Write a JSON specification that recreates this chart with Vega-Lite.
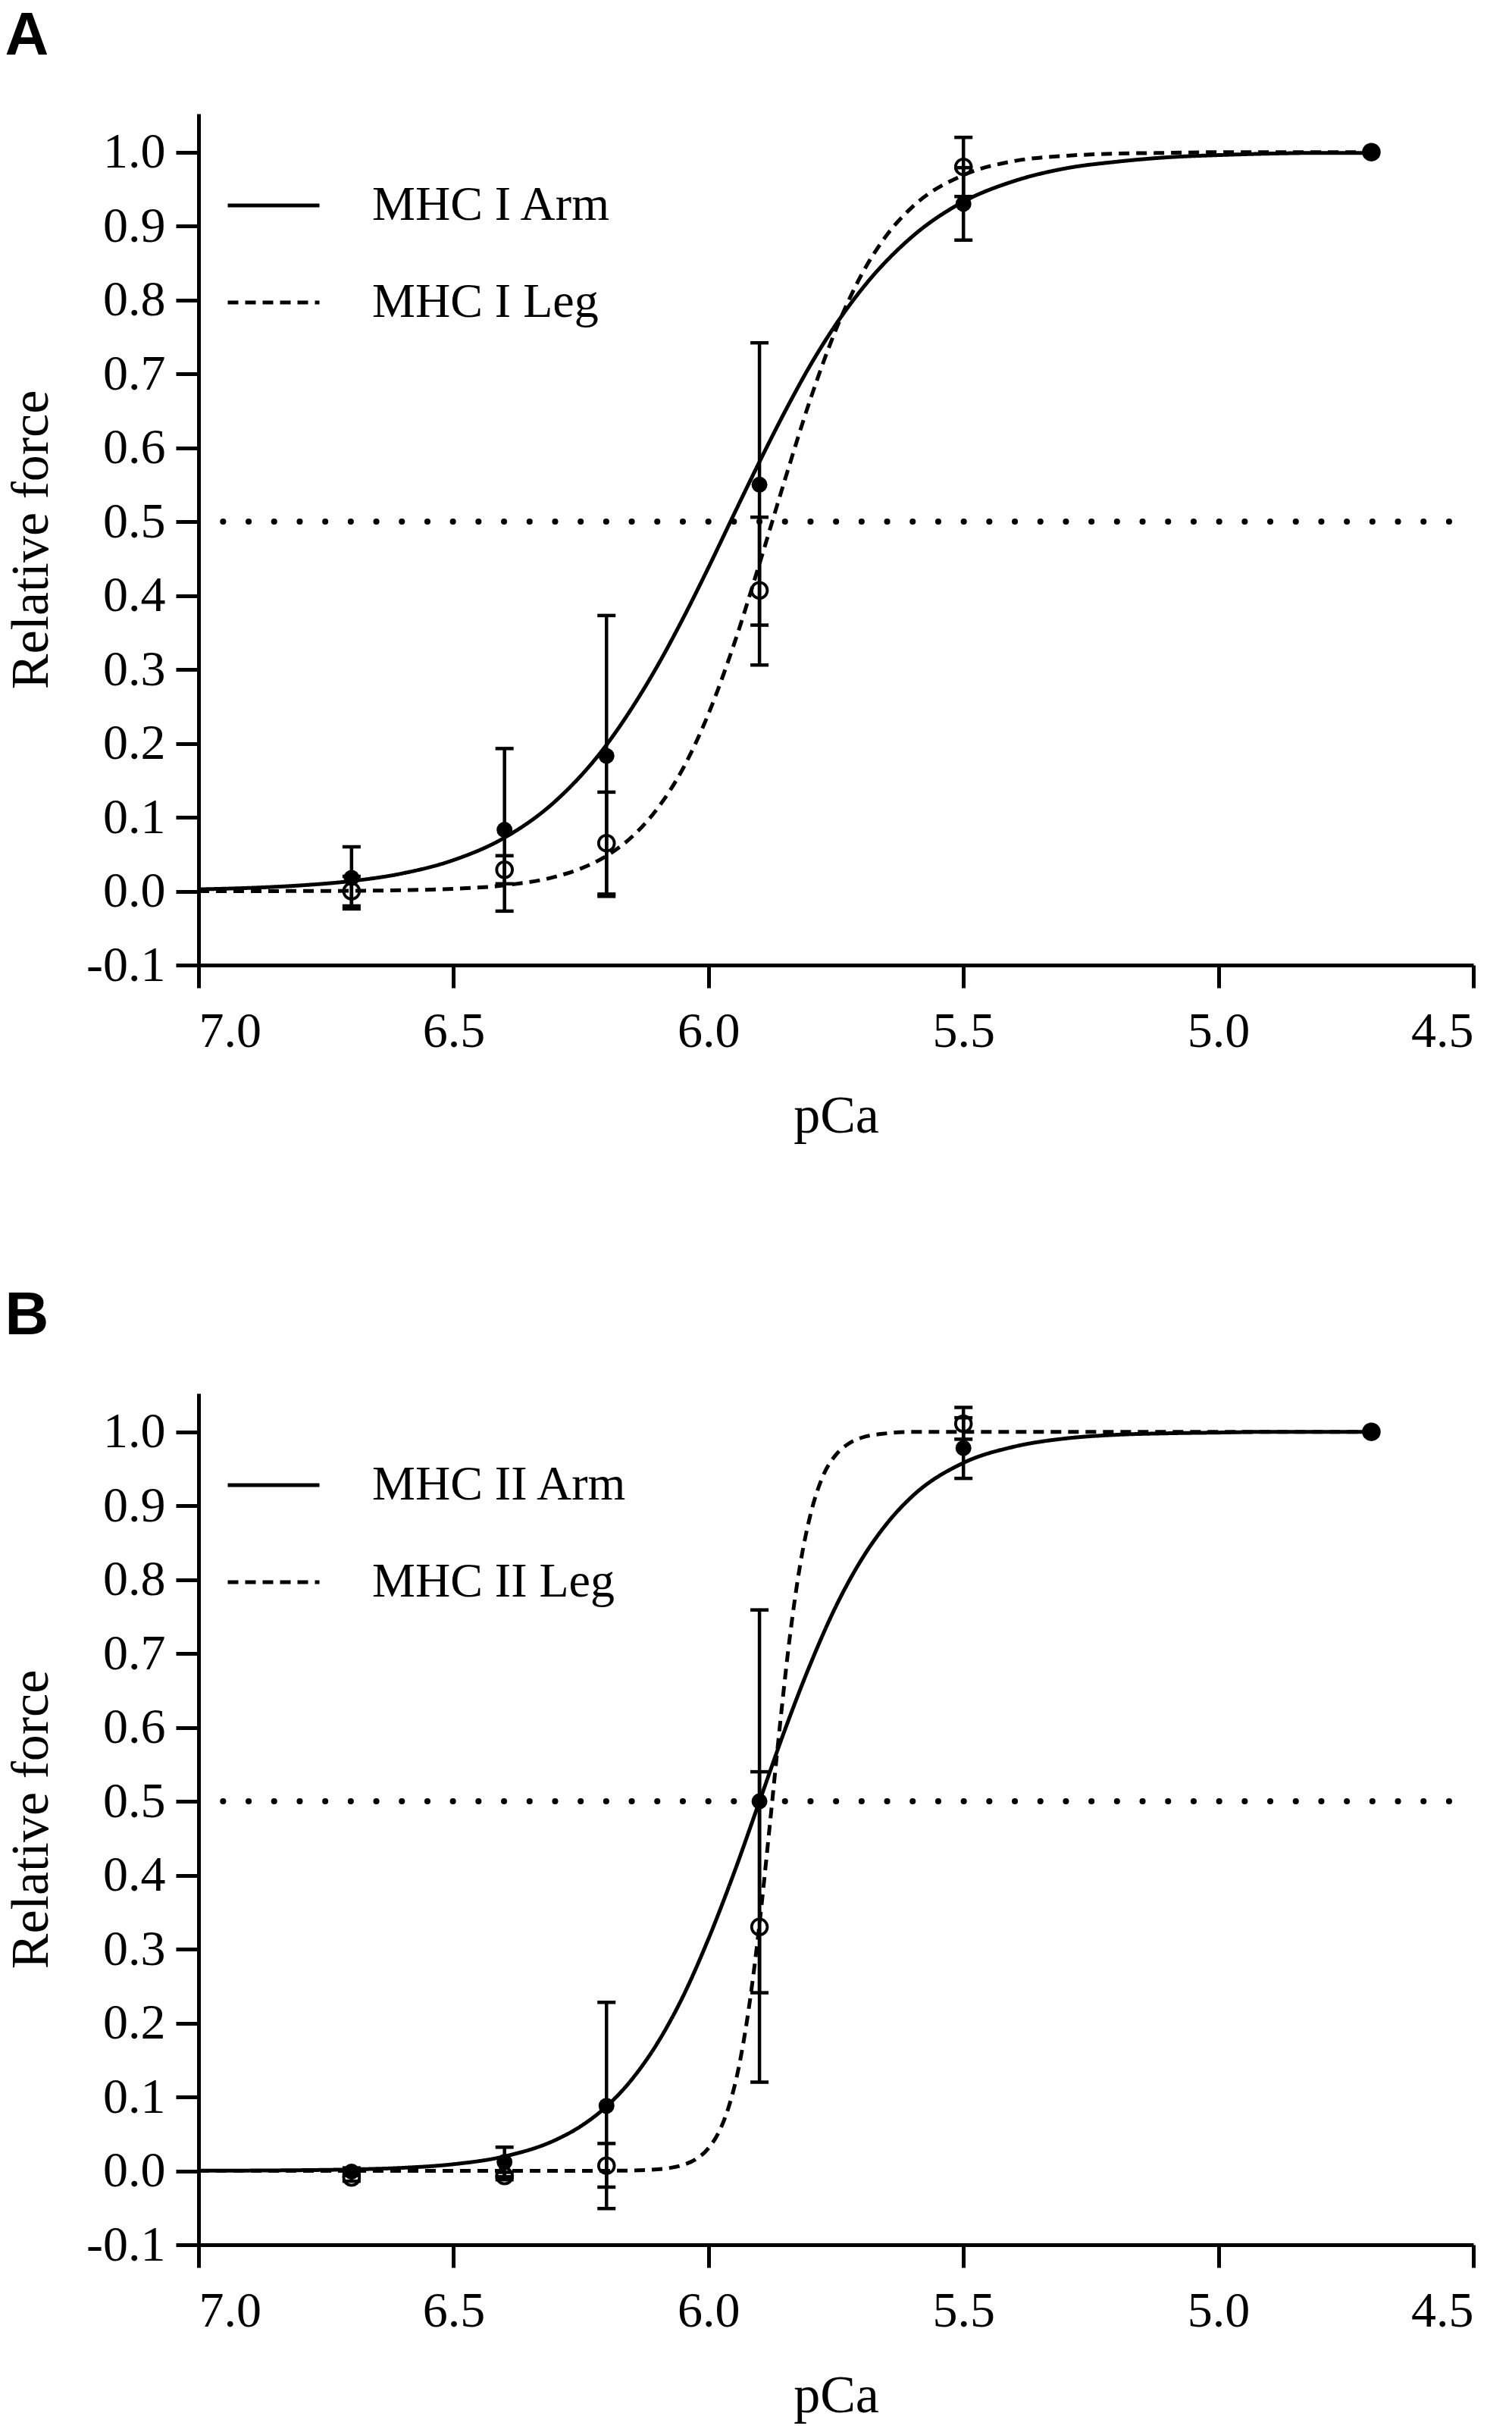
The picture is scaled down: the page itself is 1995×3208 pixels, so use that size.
{
  "$schema": "https://vega.github.io/schema/vega-lite/v6.json",
  "background": "white",
  "padding": {"left": 6, "top": 8, "right": 10, "bottom": 20},
  "config": {
    "view": {"stroke": null},
    "font": "Liberation Serif",
    "axis": {
      "grid": false,
      "domainColor": "black",
      "domainWidth": 5,
      "tickColor": "black",
      "tickWidth": 5,
      "tickSize": 30,
      "labelFont": "Liberation Serif",
      "labelFontSize": 66,
      "labelColor": "black",
      "titleFont": "Liberation Serif",
      "titleFontSize": 70,
      "titleFontWeight": "normal",
      "titleColor": "black"
    },
    "axisX": {"labelPadding": 25, "titlePadding": 45},
    "axisY": {"labelPadding": 14, "titlePadding": 36},
    "title": {
      "font": "Liberation Sans",
      "fontSize": 80,
      "fontWeight": "bold",
      "anchor": "start",
      "frame": "bounds",
      "baseline": "alphabetic",
      "color": "black",
      "offset": 61
    },
    "legend": {
      "orient": "none",
      "legendX": 36,
      "legendY": 58,
      "title": null,
      "padding": 0,
      "symbolType": "stroke",
      "symbolSize": 14641,
      "symbolStrokeWidth": 5,
      "symbolStrokeColor": "black",
      "labelFont": "Liberation Serif",
      "labelFontSize": 64,
      "labelColor": "black",
      "labelOffset": 67,
      "rowPadding": 33,
      "labelLimit": 600
    }
  },
  "datasets": {
    "pointsA": [
      {"s": "MHC I Arm", "pCa": 6.7, "f": 0.018, "lo": -0.024, "hi": 0.06},
      {"s": "MHC I Arm", "pCa": 6.4, "f": 0.083, "lo": -0.027, "hi": 0.193},
      {"s": "MHC I Arm", "pCa": 6.2, "f": 0.183, "lo": -0.007, "hi": 0.373},
      {"s": "MHC I Arm", "pCa": 5.9, "f": 0.55, "lo": 0.36, "hi": 0.742},
      {"s": "MHC I Arm", "pCa": 5.5, "f": 0.93, "lo": 0.881, "hi": 0.979},
      {"s": "MHC I Arm", "pCa": 4.7, "f": 1.0},
      {"s": "MHC I Leg", "pCa": 6.7, "f": 0.0, "lo": -0.02, "hi": 0.02},
      {"s": "MHC I Leg", "pCa": 6.4, "f": 0.029, "lo": 0.01, "hi": 0.048},
      {"s": "MHC I Leg", "pCa": 6.2, "f": 0.065, "lo": -0.004, "hi": 0.134},
      {"s": "MHC I Leg", "pCa": 5.9, "f": 0.407, "lo": 0.306, "hi": 0.506},
      {"s": "MHC I Leg", "pCa": 5.5, "f": 0.98, "lo": 0.94, "hi": 1.02},
      {"s": "MHC I Leg", "pCa": 4.7, "f": 1.0}
    ],
    "curvesA": [
      {"s": "MHC I Arm", "pCa": 7.0, "f": 0.0025},
      {"s": "MHC I Arm", "pCa": 6.9, "f": 0.0044},
      {"s": "MHC I Arm", "pCa": 6.8, "f": 0.0078},
      {"s": "MHC I Arm", "pCa": 6.7, "f": 0.0137},
      {"s": "MHC I Arm", "pCa": 6.6, "f": 0.0241},
      {"s": "MHC I Arm", "pCa": 6.5, "f": 0.0421},
      {"s": "MHC I Arm", "pCa": 6.4, "f": 0.0724},
      {"s": "MHC I Arm", "pCa": 6.3, "f": 0.122},
      {"s": "MHC I Arm", "pCa": 6.2, "f": 0.198},
      {"s": "MHC I Arm", "pCa": 6.15, "f": 0.248},
      {"s": "MHC I Arm", "pCa": 6.1, "f": 0.305},
      {"s": "MHC I Arm", "pCa": 6.05, "f": 0.369},
      {"s": "MHC I Arm", "pCa": 6.0, "f": 0.438},
      {"s": "MHC I Arm", "pCa": 5.95, "f": 0.51},
      {"s": "MHC I Arm", "pCa": 5.9, "f": 0.581},
      {"s": "MHC I Arm", "pCa": 5.85, "f": 0.649},
      {"s": "MHC I Arm", "pCa": 5.8, "f": 0.712},
      {"s": "MHC I Arm", "pCa": 5.75, "f": 0.767},
      {"s": "MHC I Arm", "pCa": 5.7, "f": 0.814},
      {"s": "MHC I Arm", "pCa": 5.6, "f": 0.886},
      {"s": "MHC I Arm", "pCa": 5.5, "f": 0.933},
      {"s": "MHC I Arm", "pCa": 5.4, "f": 0.961},
      {"s": "MHC I Arm", "pCa": 5.3, "f": 0.978},
      {"s": "MHC I Arm", "pCa": 5.2, "f": 0.987},
      {"s": "MHC I Arm", "pCa": 5.1, "f": 0.993},
      {"s": "MHC I Arm", "pCa": 5.0, "f": 0.996},
      {"s": "MHC I Arm", "pCa": 4.9, "f": 0.998},
      {"s": "MHC I Arm", "pCa": 4.8, "f": 0.999},
      {"s": "MHC I Arm", "pCa": 4.7, "f": 0.999},
      {"s": "MHC I Leg", "pCa": 7.0, "f": 0.0},
      {"s": "MHC I Leg", "pCa": 6.8, "f": 0.0002},
      {"s": "MHC I Leg", "pCa": 6.7, "f": 0.0005},
      {"s": "MHC I Leg", "pCa": 6.6, "f": 0.0013},
      {"s": "MHC I Leg", "pCa": 6.5, "f": 0.0032},
      {"s": "MHC I Leg", "pCa": 6.4, "f": 0.0079},
      {"s": "MHC I Leg", "pCa": 6.3, "f": 0.0196},
      {"s": "MHC I Leg", "pCa": 6.25, "f": 0.0307},
      {"s": "MHC I Leg", "pCa": 6.2, "f": 0.0477},
      {"s": "MHC I Leg", "pCa": 6.15, "f": 0.0736},
      {"s": "MHC I Leg", "pCa": 6.1, "f": 0.112},
      {"s": "MHC I Leg", "pCa": 6.05, "f": 0.166},
      {"s": "MHC I Leg", "pCa": 6.0, "f": 0.24},
      {"s": "MHC I Leg", "pCa": 5.95, "f": 0.334},
      {"s": "MHC I Leg", "pCa": 5.9, "f": 0.443},
      {"s": "MHC I Leg", "pCa": 5.85, "f": 0.557},
      {"s": "MHC I Leg", "pCa": 5.8, "f": 0.666},
      {"s": "MHC I Leg", "pCa": 5.75, "f": 0.76},
      {"s": "MHC I Leg", "pCa": 5.7, "f": 0.834},
      {"s": "MHC I Leg", "pCa": 5.65, "f": 0.888},
      {"s": "MHC I Leg", "pCa": 5.6, "f": 0.926},
      {"s": "MHC I Leg", "pCa": 5.5, "f": 0.969},
      {"s": "MHC I Leg", "pCa": 5.4, "f": 0.988},
      {"s": "MHC I Leg", "pCa": 5.3, "f": 0.995},
      {"s": "MHC I Leg", "pCa": 5.2, "f": 0.998},
      {"s": "MHC I Leg", "pCa": 5.1, "f": 0.999},
      {"s": "MHC I Leg", "pCa": 5.0, "f": 1.0},
      {"s": "MHC I Leg", "pCa": 4.7, "f": 1.0}
    ],
    "pointsB": [
      {"s": "MHC II Arm", "pCa": 6.7, "f": -0.001, "lo": -0.006, "hi": 0.004},
      {"s": "MHC II Arm", "pCa": 6.4, "f": 0.012, "lo": -0.008, "hi": 0.032},
      {"s": "MHC II Arm", "pCa": 6.2, "f": 0.088, "lo": -0.051, "hi": 0.228},
      {"s": "MHC II Arm", "pCa": 5.9, "f": 0.5, "lo": 0.241, "hi": 0.759},
      {"s": "MHC II Arm", "pCa": 5.5, "f": 0.978, "lo": 0.937, "hi": 1.019},
      {"s": "MHC II Arm", "pCa": 4.7, "f": 1.0},
      {"s": "MHC II Leg", "pCa": 6.7, "f": -0.009, "lo": -0.014, "hi": -0.004},
      {"s": "MHC II Leg", "pCa": 6.4, "f": -0.007, "lo": -0.012, "hi": -0.002},
      {"s": "MHC II Leg", "pCa": 6.2, "f": 0.007, "lo": -0.022, "hi": 0.037},
      {"s": "MHC II Leg", "pCa": 5.9, "f": 0.33, "lo": 0.12, "hi": 0.54},
      {"s": "MHC II Leg", "pCa": 5.5, "f": 1.011, "lo": 0.99, "hi": 1.033},
      {"s": "MHC II Leg", "pCa": 4.7, "f": 1.0}
    ],
    "curvesB": [
      {"s": "MHC II Arm", "pCa": 7.0, "f": 0.0002},
      {"s": "MHC II Arm", "pCa": 6.9, "f": 0.0004},
      {"s": "MHC II Arm", "pCa": 6.8, "f": 0.0009},
      {"s": "MHC II Arm", "pCa": 6.7, "f": 0.0019},
      {"s": "MHC II Arm", "pCa": 6.6, "f": 0.0041},
      {"s": "MHC II Arm", "pCa": 6.5, "f": 0.009},
      {"s": "MHC II Arm", "pCa": 6.4, "f": 0.0196},
      {"s": "MHC II Arm", "pCa": 6.3, "f": 0.0418},
      {"s": "MHC II Arm", "pCa": 6.25, "f": 0.0606},
      {"s": "MHC II Arm", "pCa": 6.2, "f": 0.0872},
      {"s": "MHC II Arm", "pCa": 6.15, "f": 0.124},
      {"s": "MHC II Arm", "pCa": 6.1, "f": 0.173},
      {"s": "MHC II Arm", "pCa": 6.05, "f": 0.236},
      {"s": "MHC II Arm", "pCa": 6.0, "f": 0.314},
      {"s": "MHC II Arm", "pCa": 5.95, "f": 0.403},
      {"s": "MHC II Arm", "pCa": 5.9, "f": 0.5},
      {"s": "MHC II Arm", "pCa": 5.85, "f": 0.597},
      {"s": "MHC II Arm", "pCa": 5.8, "f": 0.686},
      {"s": "MHC II Arm", "pCa": 5.75, "f": 0.764},
      {"s": "MHC II Arm", "pCa": 5.7, "f": 0.827},
      {"s": "MHC II Arm", "pCa": 5.65, "f": 0.876},
      {"s": "MHC II Arm", "pCa": 5.6, "f": 0.913},
      {"s": "MHC II Arm", "pCa": 5.5, "f": 0.958},
      {"s": "MHC II Arm", "pCa": 5.4, "f": 0.98},
      {"s": "MHC II Arm", "pCa": 5.3, "f": 0.991},
      {"s": "MHC II Arm", "pCa": 5.2, "f": 0.996},
      {"s": "MHC II Arm", "pCa": 5.1, "f": 0.998},
      {"s": "MHC II Arm", "pCa": 5.0, "f": 0.999},
      {"s": "MHC II Arm", "pCa": 4.9, "f": 1.0},
      {"s": "MHC II Arm", "pCa": 4.7, "f": 1.0},
      {"s": "MHC II Leg", "pCa": 7.0, "f": 0.0},
      {"s": "MHC II Leg", "pCa": 6.2, "f": 0.0001},
      {"s": "MHC II Leg", "pCa": 6.15, "f": 0.0005},
      {"s": "MHC II Leg", "pCa": 6.1, "f": 0.002},
      {"s": "MHC II Leg", "pCa": 6.075, "f": 0.004},
      {"s": "MHC II Leg", "pCa": 6.05, "f": 0.0079},
      {"s": "MHC II Leg", "pCa": 6.025, "f": 0.0156},
      {"s": "MHC II Leg", "pCa": 6.0, "f": 0.0307},
      {"s": "MHC II Leg", "pCa": 5.98, "f": 0.052},
      {"s": "MHC II Leg", "pCa": 5.96, "f": 0.0872},
      {"s": "MHC II Leg", "pCa": 5.94, "f": 0.142},
      {"s": "MHC II Leg", "pCa": 5.92, "f": 0.224},
      {"s": "MHC II Leg", "pCa": 5.9, "f": 0.334},
      {"s": "MHC II Leg", "pCa": 5.88, "f": 0.466},
      {"s": "MHC II Leg", "pCa": 5.86, "f": 0.602},
      {"s": "MHC II Leg", "pCa": 5.84, "f": 0.725},
      {"s": "MHC II Leg", "pCa": 5.82, "f": 0.821},
      {"s": "MHC II Leg", "pCa": 5.8, "f": 0.888},
      {"s": "MHC II Leg", "pCa": 5.775, "f": 0.941},
      {"s": "MHC II Leg", "pCa": 5.75, "f": 0.969},
      {"s": "MHC II Leg", "pCa": 5.725, "f": 0.984},
      {"s": "MHC II Leg", "pCa": 5.7, "f": 0.992},
      {"s": "MHC II Leg", "pCa": 5.65, "f": 0.998},
      {"s": "MHC II Leg", "pCa": 5.6, "f": 1.0},
      {"s": "MHC II Leg", "pCa": 4.7, "f": 1.0}
    ]
  },
  "spacing": 189,
  "resolve": {"scale": {"strokeDash": "independent", "x": "independent", "y": "independent"}, "legend": {"strokeDash": "independent"}},
  "vconcat": [
    {
      "title": {"text": "A"},
      "width": 1682,
      "height": 1123,
      "encoding": {
        "x": {
          "field": "pCa",
          "type": "quantitative",
          "scale": {"domain": [4.5, 7.0], "reverse": true, "nice": false, "zero": false},
          "axis": {"values": [7.0, 6.5, 6.0, 5.5, 5.0, 4.5], "format": ".1f", "title": "pCa"}
        },
        "y": {
          "type": "quantitative",
          "scale": {"domain": [-0.1, 1.052], "nice": false, "zero": false},
          "axis": {
            "values": [-0.1, 0, 0.1, 0.2, 0.3, 0.4, 0.5, 0.6, 0.7, 0.8, 0.9, 1.0],
            "labelExpr": "replace(format(datum.value, '.1f'), '\u2212', '-')",
            "title": "Relative force"
          }
        }
      },
      "layer": [
        {
          "data": {"values": [{"ref": 0.5}]},
          "mark": {"type": "rule", "color": "black", "strokeWidth": 8, "strokeCap": "round", "strokeDash": [0.1, 33.6], "strokeDashOffset": 1.7},
          "encoding": {"y": {"field": "ref", "type": "quantitative"}, "x": null}
        },
        {
          "data": {"name": "curvesA"},
          "mark": {"type": "line", "color": "black", "strokeWidth": 5, "interpolate": "monotone"},
          "encoding": {
            "y": {"field": "f", "type": "quantitative"},
            "strokeDash": {
              "field": "s",
              "type": "nominal",
              "scale": {"domain": ["MHC I Arm", "MHC I Leg"], "range": [[1, 0], [14, 9]]},
              "legend": {}
            }
          }
        },
        {
          "data": {"name": "pointsA"},
          "mark": {"type": "rule", "color": "black", "strokeWidth": 4.5},
          "encoding": {"y": {"field": "lo", "type": "quantitative"}, "y2": {"field": "hi"}}
        },
        {
          "data": {"name": "pointsA"},
          "mark": {"type": "tick", "orient": "horizontal", "color": "black", "size": 24, "thickness": 4.5, "opacity": 1},
          "encoding": {"y": {"field": "lo", "type": "quantitative"}}
        },
        {
          "data": {"name": "pointsA"},
          "mark": {"type": "tick", "orient": "horizontal", "color": "black", "size": 24, "thickness": 4.5, "opacity": 1},
          "encoding": {"y": {"field": "hi", "type": "quantitative"}}
        },
        {
          "data": {"name": "pointsA"},
          "transform": [{"filter": "datum.s === 'MHC I Leg'"}],
          "mark": {"type": "point", "shape": "circle", "filled": false, "size": 430, "strokeWidth": 3.8, "color": "black", "opacity": 1},
          "encoding": {"y": {"field": "f", "type": "quantitative"}}
        },
        {
          "data": {"name": "pointsA"},
          "transform": [{"filter": "datum.s === 'MHC I Arm'"}],
          "mark": {"type": "point", "shape": "circle", "filled": true, "size": 440, "color": "black", "opacity": 1},
          "encoding": {"y": {"field": "f", "type": "quantitative"}}
        }
      ]
    },
    {
      "title": {"text": "B"},
      "width": 1682,
      "height": 1123,
      "encoding": {
        "x": {
          "field": "pCa",
          "type": "quantitative",
          "scale": {"domain": [4.5, 7.0], "reverse": true, "nice": false, "zero": false},
          "axis": {"values": [7.0, 6.5, 6.0, 5.5, 5.0, 4.5], "format": ".1f", "title": "pCa"}
        },
        "y": {
          "type": "quantitative",
          "scale": {"domain": [-0.1, 1.052], "nice": false, "zero": false},
          "axis": {
            "values": [-0.1, 0, 0.1, 0.2, 0.3, 0.4, 0.5, 0.6, 0.7, 0.8, 0.9, 1.0],
            "labelExpr": "replace(format(datum.value, '.1f'), '\u2212', '-')",
            "title": "Relative force"
          }
        }
      },
      "layer": [
        {
          "data": {"values": [{"ref": 0.5}]},
          "mark": {"type": "rule", "color": "black", "strokeWidth": 8, "strokeCap": "round", "strokeDash": [0.1, 33.6], "strokeDashOffset": 1.7},
          "encoding": {"y": {"field": "ref", "type": "quantitative"}, "x": null}
        },
        {
          "data": {"name": "curvesB"},
          "mark": {"type": "line", "color": "black", "strokeWidth": 5, "interpolate": "monotone"},
          "encoding": {
            "y": {"field": "f", "type": "quantitative"},
            "strokeDash": {
              "field": "s",
              "type": "nominal",
              "scale": {"domain": ["MHC II Arm", "MHC II Leg"], "range": [[1, 0], [14, 9]]},
              "legend": {}
            }
          }
        },
        {
          "data": {"name": "pointsB"},
          "mark": {"type": "rule", "color": "black", "strokeWidth": 4.5},
          "encoding": {"y": {"field": "lo", "type": "quantitative"}, "y2": {"field": "hi"}}
        },
        {
          "data": {"name": "pointsB"},
          "mark": {"type": "tick", "orient": "horizontal", "color": "black", "size": 24, "thickness": 4.5, "opacity": 1},
          "encoding": {"y": {"field": "lo", "type": "quantitative"}}
        },
        {
          "data": {"name": "pointsB"},
          "mark": {"type": "tick", "orient": "horizontal", "color": "black", "size": 24, "thickness": 4.5, "opacity": 1},
          "encoding": {"y": {"field": "hi", "type": "quantitative"}}
        },
        {
          "data": {"name": "pointsB"},
          "transform": [{"filter": "datum.s === 'MHC II Leg'"}],
          "mark": {"type": "point", "shape": "circle", "filled": false, "size": 430, "strokeWidth": 3.8, "color": "black", "opacity": 1},
          "encoding": {"y": {"field": "f", "type": "quantitative"}}
        },
        {
          "data": {"name": "pointsB"},
          "transform": [{"filter": "datum.s === 'MHC II Arm'"}],
          "mark": {"type": "point", "shape": "circle", "filled": true, "size": 440, "color": "black", "opacity": 1},
          "encoding": {"y": {"field": "f", "type": "quantitative"}}
        }
      ]
    }
  ]
}
